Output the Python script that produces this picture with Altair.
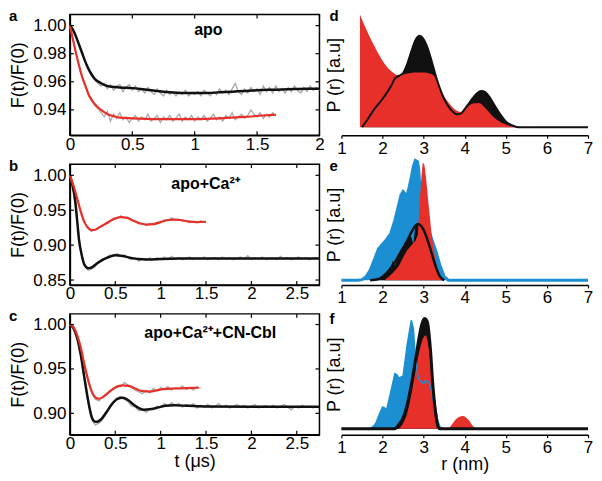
import altair as alt
import pandas as pd

FONT = "Liberation Sans"
RED = "#e8302a"
BLUE = "#1b8fd2"
GRAY = "#a9a9a9"
BLACK = "#111111"

# ---------------- panel a (time traces) ----------------
A_STEP = 0.025
A_GRAY_BLACK = [1.000, 0.997, 0.992, 0.986, 0.980, 0.974, 0.969, 0.965, 0.961, 0.959,
                0.957, 0.959, 0.955, 0.958, 0.954, 0.957, 0.958, 0.953, 0.956, 0.958,
                0.954, 0.957, 0.953, 0.955, 0.952, 0.956, 0.953, 0.951, 0.955, 0.952,
                0.950, 0.954, 0.951, 0.953, 0.950, 0.953, 0.951, 0.954, 0.950, 0.952,
                0.951, 0.953, 0.950, 0.954, 0.952, 0.950, 0.953, 0.951, 0.955, 0.952,
                0.954, 0.951, 0.955, 0.959, 0.953, 0.951, 0.955, 0.952, 0.956, 0.953,
                0.955, 0.951, 0.957, 0.953, 0.956, 0.952, 0.957, 0.953, 0.955, 0.952,
                0.956, 0.953, 0.957, 0.954, 0.952, 0.956, 0.953, 0.957, 0.954, 0.956,
                0.954]
A_GRAY_RED = [1.000, 0.990, 0.980, 0.971, 0.963, 0.958, 0.950, 0.948, 0.943, 0.941,
              0.938, 0.935, 0.939, 0.932, 0.937, 0.934, 0.938, 0.933, 0.935, 0.931,
              0.934, 0.936, 0.932, 0.935, 0.933, 0.937, 0.932, 0.934, 0.936, 0.931,
              0.935, 0.933, 0.936, 0.932, 0.934, 0.937, 0.932, 0.935, 0.933, 0.936,
              0.932, 0.935, 0.933, 0.936, 0.932, 0.934, 0.937, 0.933, 0.935, 0.932,
              0.936, 0.934, 0.938, 0.933, 0.935, 0.937, 0.934, 0.936, 0.940, 0.937,
              0.935, 0.938, 0.934, 0.937, 0.935, 0.938, 0.936]
A_FIT_BLACK_T = [0, 0.025, 0.05, 0.075, 0.1, 0.125, 0.15, 0.175, 0.2, 0.25,
                 0.3, 0.4, 0.5, 0.6, 0.7, 0.8, 0.9, 1.0, 1.1, 1.2,
                 1.3, 1.4, 1.5, 1.6, 1.7, 1.8, 1.9, 2.0]
A_FIT_BLACK_V = [1.000, 0.997, 0.992, 0.986, 0.980, 0.974, 0.969, 0.965, 0.962, 0.959,
                 0.957, 0.956, 0.9555, 0.9545, 0.9535, 0.9525, 0.952, 0.952, 0.952, 0.9525,
                 0.953, 0.9535, 0.954, 0.9543, 0.9545, 0.9548, 0.955, 0.955]
A_FIT_RED_T = [0, 0.025, 0.05, 0.075, 0.1, 0.125, 0.15, 0.175, 0.2, 0.25,
               0.3, 0.35, 0.4, 0.5, 0.7, 1.0, 1.2, 1.4, 1.55, 1.65]
A_FIT_RED_V = [1.000, 0.990, 0.980, 0.971, 0.963, 0.957, 0.951, 0.947, 0.944, 0.940,
               0.937, 0.9355, 0.9345, 0.934, 0.9335, 0.9335, 0.934, 0.935, 0.936, 0.9365]

# ---------------- panel b ----------------
BC_STEP = 0.04
B_GRAY_BLACK = [1.000, 0.976, 0.935, 0.892, 0.871, 0.864, 0.866, 0.870, 0.876, 0.880,
                0.881, 0.886, 0.884, 0.888, 0.884, 0.886, 0.882, 0.879, 0.882, 0.877,
                0.881, 0.878, 0.882, 0.879, 0.882, 0.880, 0.883, 0.879, 0.884, 0.880,
                0.882, 0.879, 0.881, 0.883, 0.879, 0.882, 0.880, 0.883, 0.879, 0.881,
                0.882, 0.879, 0.883, 0.880, 0.882, 0.879, 0.881, 0.883, 0.880, 0.885,
                0.879, 0.882, 0.880, 0.883, 0.879, 0.881, 0.882, 0.879, 0.884, 0.880,
                0.882, 0.879, 0.881, 0.883, 0.880, 0.882, 0.879, 0.881, 0.882]
B_GRAY_RED = [1.000, 0.986, 0.966, 0.947, 0.932, 0.924, 0.920, 0.922, 0.926, 0.928,
              0.932, 0.934, 0.939, 0.938, 0.942, 0.939, 0.940, 0.935, 0.934, 0.930,
              0.931, 0.928, 0.931, 0.929, 0.933, 0.932, 0.936, 0.935, 0.939, 0.936,
              0.937, 0.934, 0.935, 0.932, 0.934, 0.932, 0.935, 0.933]
B_FIT_BLACK_T = [0, 0.03, 0.06, 0.08, 0.1, 0.13, 0.16, 0.2, 0.24, 0.3, 0.36, 0.43,
                 0.5, 0.58, 0.66, 0.75, 0.85, 1.0, 1.2, 1.5, 2.0, 2.5, 2.75]
B_FIT_BLACK_V = [1.0, 0.985, 0.962, 0.935, 0.908, 0.886, 0.872, 0.867, 0.868, 0.874, 0.879, 0.883,
                 0.8855, 0.8845, 0.882, 0.880, 0.8795, 0.880, 0.8808, 0.881, 0.881, 0.881, 0.881]
B_FIT_RED_T = [0, 0.04, 0.08, 0.12, 0.16, 0.2, 0.24, 0.28, 0.32, 0.4, 0.48, 0.56,
               0.62, 0.7, 0.78, 0.85, 0.92, 1.0, 1.08, 1.15, 1.22, 1.3, 1.4, 1.5]
B_FIT_RED_V = [1.000, 0.985, 0.967, 0.948, 0.933, 0.925, 0.9215, 0.922, 0.925, 0.931, 0.937, 0.940,
               0.9395, 0.935, 0.931, 0.9295, 0.930, 0.933, 0.936, 0.9365, 0.936, 0.934, 0.933, 0.9335]

# ---------------- panel c ----------------
C_GRAY_BLACK = [1.000, 0.995, 0.984, 0.964, 0.937, 0.912, 0.893, 0.887, 0.889, 0.893,
                0.899, 0.906, 0.912, 0.917, 0.919, 0.916, 0.913, 0.908, 0.907, 0.903,
                0.904, 0.901, 0.905, 0.904, 0.908, 0.907, 0.911, 0.908, 0.912, 0.909,
                0.911, 0.907, 0.910, 0.908, 0.911, 0.906, 0.909, 0.907, 0.910, 0.906,
                0.908, 0.911, 0.907, 0.909, 0.906, 0.908, 0.910, 0.907, 0.909, 0.906,
                0.908, 0.910, 0.906, 0.908, 0.909, 0.907, 0.909, 0.906, 0.908, 0.910,
                0.907, 0.904, 0.908, 0.906, 0.909, 0.907, 0.908, 0.906, 0.908]
C_GRAY_RED = [1.000, 0.997, 0.988, 0.973, 0.953, 0.936, 0.923, 0.916, 0.914, 0.919,
              0.921, 0.926, 0.927, 0.931, 0.930, 0.935, 0.932, 0.929, 0.926, 0.924,
              0.922, 0.926, 0.923, 0.928, 0.925, 0.929, 0.927, 0.930, 0.926, 0.929,
              0.928, 0.931, 0.927, 0.929, 0.926, 0.930, 0.928]
C_FIT_BLACK_T = [0, 0.04, 0.08, 0.12, 0.16, 0.2, 0.24, 0.27, 0.3, 0.34, 0.4, 0.46, 0.52,
                 0.58, 0.64, 0.7, 0.76, 0.82, 0.88, 0.95, 1.05, 1.15, 1.3, 1.5, 2.0, 2.75]
C_FIT_BLACK_V = [1.0, 0.996, 0.985, 0.966, 0.940, 0.915, 0.896, 0.891, 0.8905, 0.893, 0.901, 0.910, 0.916,
                 0.9175, 0.915, 0.910, 0.906, 0.904, 0.9045, 0.906, 0.9085, 0.909, 0.9085, 0.9078, 0.9075, 0.9075]
C_FIT_RED_T = [0, 0.04, 0.08, 0.12, 0.16, 0.2, 0.24, 0.28, 0.32, 0.36, 0.42,
               0.5, 0.58, 0.65, 0.72, 0.8, 0.88, 0.96, 1.05, 1.15, 1.3, 1.42]
C_FIT_RED_V = [1.0, 0.997, 0.988, 0.974, 0.955, 0.938, 0.925, 0.918, 0.9165, 0.918, 0.923,
               0.929, 0.9315, 0.931, 0.928, 0.925, 0.9245, 0.926, 0.9275, 0.928, 0.9285, 0.9288]

# ---------------- panel d (distance distributions) ----------------
D_RED_R = [1.45, 1.6, 1.8, 2.0, 2.2, 2.4, 2.6, 2.8, 3.0, 3.2, 3.3, 3.4, 3.6, 3.8, 3.9,
           4.0, 4.2, 4.35, 4.5, 4.7, 4.9, 5.1, 5.3]
D_RED_P = [1.00, 0.87, 0.72, 0.59, 0.50, 0.46, 0.475, 0.485, 0.485, 0.47, 0.43, 0.34, 0.22, 0.147, 0.135,
           0.16, 0.21, 0.215, 0.17, 0.09, 0.04, 0.012, 0.0]
D_BLACK_R = [1.5, 1.6, 1.8, 2.0, 2.2, 2.3, 2.4, 2.5, 2.6, 2.7,
             2.8, 2.9, 3.0, 3.1, 3.2, 3.3, 3.4, 3.5, 3.6, 3.7,
             3.8, 3.9, 4.0, 4.1, 4.2, 4.3, 4.4, 4.5, 4.6, 4.7,
             4.8, 4.9, 5.0, 5.1, 5.2, 5.3, 7.0]
D_BLACK_P = [0.0, 0.05, 0.16, 0.25, 0.36, 0.43, 0.455, 0.48, 0.56, 0.67,
             0.77, 0.81, 0.78, 0.70, 0.58, 0.45, 0.34, 0.25, 0.185, 0.14,
             0.115, 0.12, 0.16, 0.21, 0.26, 0.30, 0.32, 0.31, 0.27, 0.21,
             0.15, 0.095, 0.05, 0.025, 0.01, 0.0, 0.0]

# ---------------- panel e ----------------
E_BLUE_R = [1.0, 1.4, 1.5, 1.6, 1.7, 1.8, 1.9, 2.0, 2.1, 2.2, 2.3, 2.4, 2.45, 2.5, 2.55, 2.6,
            2.65, 2.7, 2.75, 2.8, 2.85, 2.88, 2.9, 2.95, 3.0, 3.1, 3.2, 3.3, 3.4, 3.5, 3.6, 7.0]
E_BLUE_P = [0, 0, 0.005, 0.03, 0.083, 0.17, 0.26, 0.3, 0.34, 0.39, 0.5, 0.64, 0.71, 0.74, 0.72, 0.71,
            0.78, 0.86, 0.95, 1.0, 0.99, 0.93, 0.82, 0.70, 0.6, 0.45, 0.34, 0.24, 0.12, 0.03, 0, 0]
E_RED_R = [2.05, 2.15, 2.25, 2.3, 2.4, 2.5, 2.6, 2.7, 2.8, 2.86, 2.9, 2.95, 2.98, 3.02, 3.06,
           3.1, 3.14, 3.2, 3.3, 3.4, 3.45]
E_RED_P = [0, 0.03, 0.06, 0.08, 0.12, 0.19, 0.25, 0.29, 0.33, 0.38, 0.62, 0.88, 0.985, 0.96, 0.85,
           0.7, 0.57, 0.36, 0.15, 0.04, 0]
E_BLKF_R = [1.7, 1.9, 2.0, 2.1, 2.2, 2.25, 2.3, 2.35, 2.4, 2.5, 2.6, 2.65, 2.7, 2.75, 2.8, 2.85,
            2.9, 3.0, 3.1, 3.2, 3.3, 3.4, 3.5]
E_BLKF_P = [0, 0.01, 0.03, 0.07, 0.11, 0.165, 0.12, 0.16, 0.22, 0.28, 0.34, 0.37, 0.36, 0.30, 0.455, 0.47,
            0.465, 0.42, 0.33, 0.22, 0.11, 0.03, 0]
E_BLKL_R = [1.7, 1.9, 2.0, 2.1, 2.2, 2.3, 2.4, 2.5, 2.6, 2.7, 2.8, 2.85, 2.9, 3.0, 3.1, 3.2, 3.3, 3.4, 3.5]
E_BLKL_P = [0, 0.01, 0.03, 0.06, 0.10, 0.15, 0.21, 0.27, 0.33, 0.40, 0.455, 0.47, 0.465, 0.42, 0.33,
            0.22, 0.11, 0.03, 0]

# ---------------- panel f ----------------
F_BLUE_R = [1.0, 1.7, 1.8, 1.85, 1.9, 2.0, 2.05, 2.1, 2.2, 2.3, 2.35, 2.4, 2.5, 2.6, 2.7, 2.75,
            2.8, 2.85, 2.9, 3.0, 3.05, 3.1, 3.15, 3.2, 3.3, 3.4, 3.5, 7.0]
F_BLUE_P = [0, 0, 0.03, 0.06, 0.11, 0.197, 0.19, 0.17, 0.333, 0.5, 0.49, 0.46, 0.48, 0.76, 0.985, 0.91,
            0.64, 0.5, 0.44, 0.41, 0.44, 0.43, 0.40, 0.33, 0.12, 0.015, 0, 0]
F_RED_R = [2.4, 2.5, 2.6, 2.7, 2.8, 2.9, 3.0, 3.05, 3.14, 3.26, 3.34, 3.42, 3.6, 3.7, 3.8, 3.95,
           4.1, 4.2, 4.3]
F_RED_P = [0, 0.05, 0.14, 0.31, 0.52, 0.71, 0.83, 0.85, 0.70, 0.33, 0.12, 0, 0, 0.045, 0.09, 0.115,
           0.076, 0.024, 0]
F_BLK_R = [1.0, 2.3, 2.4, 2.5, 2.6, 2.7, 2.8, 2.9, 2.95, 3.02, 3.09, 3.17, 3.22, 3.29, 3.35, 3.4, 7.0]
F_BLK_P = [0, 0, 0.04, 0.1, 0.22, 0.4, 0.62, 0.85, 0.94, 1.0, 0.97, 0.70, 0.42, 0.15, 0.02, 0, 0]

LEFT_W, LEFT_H = 250, 121
RIGHT_W, RIGHT_H = 247, 121
TICK_LEN = 4


def grid(step, vals):
    return [round(i * step, 4) for i in range(len(vals))]


def tv(ts, vs):
    return pd.DataFrame({"t": ts, "v": vs})


def rp(rs, ps):
    return pd.DataFrame({"r": rs, "P": ps})


def left_panel(letter, label, label_t, label_v, xdom, xvals, ydom, yvals,
               grays, fits, xtitle=None):
    x = alt.X("t:Q", scale=alt.Scale(domain=xdom, nice=False, zero=False),
              axis=alt.Axis(values=xvals, format="~g", title=xtitle, ticks=False,
                            labelPadding=1, titlePadding=1, labelFlush=False))
    y = alt.Y("v:Q", scale=alt.Scale(domain=ydom, nice=False, zero=False),
              axis=alt.Axis(values=yvals, format=".2f", title="F(t)/F(0)", ticks=False,
                            labelPadding=4, titlePadding=5, labelFlush=False))
    layers = []
    for df in grays:
        layers.append(alt.Chart(df).mark_line(color=GRAY, strokeWidth=1.3)
                      .encode(x=x, y=y))
    for df, color, w in fits:
        layers.append(alt.Chart(df).mark_line(color=color, strokeWidth=w, interpolate="monotone")
                      .encode(x=x, y=y))
    # inward ticks on all four sides of the frame
    xt = pd.DataFrame({"t": xvals})
    yt = pd.DataFrame({"v": yvals})
    for y0, y1 in [(LEFT_H, LEFT_H - TICK_LEN), (0, TICK_LEN)]:
        layers.append(alt.Chart(xt).mark_rule(color="black", strokeWidth=1.2)
                      .encode(x=x, y=alt.value(y0), y2=alt.value(y1)))
    for x0, x1 in [(0, TICK_LEN), (LEFT_W, LEFT_W - TICK_LEN)]:
        layers.append(alt.Chart(yt).mark_rule(color="black", strokeWidth=1.2)
                      .encode(y=y, x=alt.value(x0), x2=alt.value(x1)))
    lab = pd.DataFrame({"t": [label_t], "v": [label_v], "s": [label]})
    layers.append(alt.Chart(lab).mark_text(font=FONT, fontSize=16, fontWeight="bold",
                                           align="center", baseline="alphabetic")
                  .encode(x=x, y=y, text="s:N"))
    let = pd.DataFrame({"s": [letter]})
    layers.append(alt.Chart(let).mark_text(font=FONT, fontSize=15, fontWeight="bold",
                                           align="left", baseline="middle")
                  .encode(x=alt.value(-61), y=alt.value(2), text="s:N"))
    return alt.layer(*layers).properties(width=LEFT_W, height=LEFT_H)


def right_panel(letter, ydom, areas, lines, xtitle=None, letter_y=2):
    x = alt.X("r:Q", scale=alt.Scale(domain=[1, 7], nice=False, zero=False),
              axis=alt.Axis(values=[1, 2, 3, 4, 5, 6, 7], format="d", title=xtitle,
                            tickSize=3, labelPadding=2, titlePadding=0, labelFlush=False))
    y = alt.Y("P:Q", scale=alt.Scale(domain=ydom, nice=False, zero=False),
              axis=alt.Axis(title="P (r) [a.u]", labels=False, ticks=False, domain=False,
                            titlePadding=-2))
    layers = []
    for kind, df, color, interp, w in areas + lines:
        if kind == "area":
            layers.append(alt.Chart(df).mark_area(color=color, opacity=1, interpolate=interp)
                          .encode(x=x, y=y, y2=alt.datum(0)))
        else:
            layers.append(alt.Chart(df).mark_line(color=color, strokeWidth=w, interpolate=interp)
                          .encode(x=x, y=y))
    let = pd.DataFrame({"s": [letter]})
    layers.append(alt.Chart(let).mark_text(font=FONT, fontSize=15, fontWeight="bold",
                                           align="left", baseline="middle")
                  .encode(x=alt.value(-12), y=alt.value(letter_y), text="s:N"))
    return alt.layer(*layers).properties(width=RIGHT_W, height=RIGHT_H,
                                         view=alt.ViewBackground(stroke=None))


pa = left_panel("a", "apo", 1.11, 0.993, [0, 2], [0, 0.5, 1, 1.5, 2],
                [0.922, 1.008], [0.94, 0.96, 0.98, 1.00],
                [tv(grid(A_STEP, A_GRAY_BLACK), A_GRAY_BLACK),
                 tv(grid(A_STEP, A_GRAY_RED), A_GRAY_RED)],
                [(tv(A_FIT_BLACK_T, A_FIT_BLACK_V), BLACK, 2.5),
                 (tv(A_FIT_RED_T, A_FIT_RED_V), RED, 2.2)])
pb = left_panel("b", "apo+Ca²⁺", 1.495, 0.981, [0, 2.75], [0, 0.5, 1, 1.5, 2, 2.5],
                [0.843, 1.016], [0.85, 0.90, 0.95, 1.00],
                [tv(grid(BC_STEP, B_GRAY_BLACK), B_GRAY_BLACK),
                 tv(grid(BC_STEP, B_GRAY_RED), B_GRAY_RED)],
                [(tv(B_FIT_BLACK_T, B_FIT_BLACK_V), BLACK, 2.5),
                 (tv(B_FIT_RED_T, B_FIT_RED_V), RED, 2.2)])
pc = left_panel("c", "apo+Ca²⁺+CN-Cbl", 1.547, 0.985, [0, 2.75], [0, 0.5, 1, 1.5, 2, 2.5],
                [0.876, 1.012], [0.90, 0.95, 1.00],
                [tv(grid(BC_STEP, C_GRAY_BLACK), C_GRAY_BLACK),
                 tv(grid(BC_STEP, C_GRAY_RED), C_GRAY_RED)],
                [(tv(C_FIT_BLACK_T, C_FIT_BLACK_V), BLACK, 2.5),
                 (tv(C_FIT_RED_T, C_FIT_RED_V), RED, 2.2)],
                xtitle="t (μs)")

pd_ = right_panel("d", [-0.071, 1.0],
                  [("area", rp(D_BLACK_R, D_BLACK_P), BLACK, "monotone", 0),
                   ("area", rp(D_RED_R, D_RED_P), RED, "monotone", 0)],
                  [("line", rp(D_BLACK_R, D_BLACK_P), BLACK, "monotone", 2)])
pe = right_panel("e", [-0.039, 0.969],
                 [("area", rp(E_BLUE_R, E_BLUE_P), BLUE, "linear", 0),
                  ("line", rp(E_BLUE_R, E_BLUE_P), BLUE, "linear", 3),
                  ("area", rp(E_BLKF_R, E_BLKF_P), BLACK, "linear", 0),
                  ("area", rp(E_RED_R, E_RED_P), RED, "linear", 0)],
                 [("line", rp(E_BLKL_R, E_BLKL_P), BLACK, "monotone", 2.5)])
pf = right_panel("f", [-0.054, 1.043],
                 [("area", rp(F_BLUE_R, F_BLUE_P), BLUE, "linear", 0),
                  ("area", rp(F_BLK_R, F_BLK_P), BLACK, "monotone", 0),
                  ("area", rp(F_RED_R, F_RED_P), RED, "monotone", 0)],
                 [("line", rp(F_BLUE_R, F_BLUE_P), BLUE, "linear", 1.5),
                  ("line", rp(F_BLK_R, F_BLK_P), BLACK, "monotone", 3)],
                 xtitle="r (nm)", letter_y=5)

chart = (alt.concat(pa, pd_, pb, pe, pc, pf, columns=2,
                    spacing={"row": 29, "column": 22}, bounds="flush")
         .properties(padding={"left": 0, "top": 0, "right": 0, "bottom": 0},
                     background="white")
         .configure(font=FONT)
         .configure_axis(labelFont=FONT, titleFont=FONT, labelFontSize=17, titleFontSize=18,
                         labelColor="black", titleColor="black", titleFontWeight="normal",
                         domainColor="black", domainWidth=1.5, tickColor="black",
                         tickWidth=1.2, grid=False)
         .configure_view(stroke="black", strokeWidth=1.5))

chart.save("out.html", embed_options={"renderer": "svg", "actions": False})
